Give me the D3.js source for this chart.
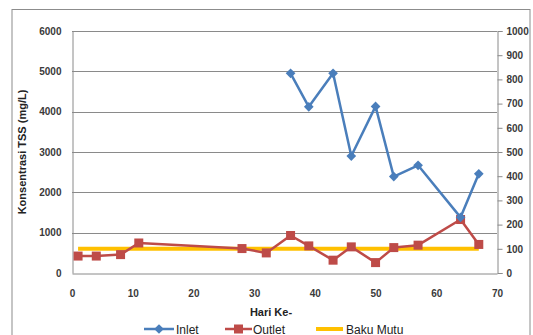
<!DOCTYPE html>
<html>
<head>
<meta charset="utf-8">
<script src="https://cdn.jsdelivr.net/npm/d3@7"></script>
<style>
  body { margin: 0; background: #fff; }
  svg { display: block; }
</style>
</head>
<body>
<svg id="chart" width="533" height="335"></svg>
<script>
// TSS concentration by day: inlet on the left axis, outlet and standard on the right axis
const inletDays   = [36, 39, 43, 46, 50, 53, 57, 64, 67];
const inletValues = [4950, 4120, 4950, 2900, 4130, 2390, 2670, 1380, 2460];

const outletDays   = [1, 4, 8, 11, 28, 32, 36, 39, 43, 46, 50, 53, 57, 64, 67];
const outletValues = [70, 70, 76, 124, 101, 83, 155, 112, 53, 108, 43, 105, 115, 221, 118];

const bakuMutuDays   = [1, 67];
const bakuMutuValues = [100, 100];

const xTicks      = [0, 10, 20, 30, 40, 50, 60, 70];
const leftTicks   = [0, 1000, 2000, 3000, 4000, 5000, 6000];
const rightTicks  = [0, 100, 200, 300, 400, 500, 600, 700, 800, 900, 1000];

const svg = d3.select("#chart");
const plot = { left: 72, right: 497, top: 31, bottom: 273 };

// outer chart frame
svg.append("rect")
  .attr("x", 12).attr("y", 9.5)
  .attr("width", 518).attr("height", 340)
  .attr("fill", "#fff").attr("stroke", "#8c8c8c").attr("stroke-width", 1);

const x  = d3.scaleLinear().domain([0, 70]).range([plot.left, plot.right]);
const yL = d3.scaleLinear().domain([0, 6000]).range([plot.bottom, plot.top]);
const yR = d3.scaleLinear().domain([0, 1000]).range([plot.bottom, plot.top]);

const tickFont = "'Liberation Sans', Arial, sans-serif";
const fmt = d3.format("d");

// horizontal gridlines from the left axis
svg.append("g")
  .selectAll("line")
  .data(leftTicks.filter(d => d > 0))
  .join("line")
  .attr("x1", plot.left).attr("x2", plot.right)
  .attr("y1", d => Math.round(yL(d)) + 0.5).attr("y2", d => Math.round(yL(d)) + 0.5)
  .attr("stroke", "#8a8a8a").attr("stroke-width", 1);

// left axis
const gL = svg.append("g")
  .attr("transform", `translate(${plot.left + 0.5},0)`)
  .call(d3.axisLeft(yL).tickValues(leftTicks).tickFormat(fmt).tickSize(0).tickPadding(11));
gL.select(".domain").attr("stroke", "#8a8a8a");
gL.selectAll("text").attr("font-family", tickFont).attr("font-size", 10)
  .attr("font-weight", "bold").attr("fill", "#3a3a3a");

// right axis
const gR = svg.append("g")
  .attr("transform", `translate(${plot.right + 0.5},0)`)
  .call(d3.axisRight(yR).tickValues(rightTicks).tickFormat(fmt).tickSize(5).tickPadding(4));
gR.select(".domain").attr("stroke", "#8a8a8a");
gR.selectAll(".tick line").attr("stroke", "#8a8a8a");
gR.selectAll("text").attr("font-family", tickFont).attr("font-size", 10)
  .attr("font-weight", "bold").attr("fill", "#3a3a3a");

// bottom axis
const gX = svg.append("g")
  .attr("transform", `translate(0,${plot.bottom + 0.5})`)
  .call(d3.axisBottom(x).tickValues(xTicks).tickFormat(fmt).tickSize(0).tickPadding(16));
gX.select(".domain").attr("stroke", "#8a8a8a");
gX.selectAll("text").attr("font-family", tickFont).attr("font-size", 10)
  .attr("font-weight", "bold").attr("fill", "#3a3a3a");

// axis titles
svg.append("text")
  .attr("transform", `translate(26,${(plot.top + plot.bottom) / 2}) rotate(-90)`)
  .attr("text-anchor", "middle")
  .attr("font-family", tickFont).attr("font-size", 11).attr("font-weight", "bold")
  .attr("fill", "#222")
  .text("Konsentrasi TSS (mg/L)");

svg.append("text")
  .attr("x", 271).attr("y", 316)
  .attr("text-anchor", "middle")
  .attr("font-family", tickFont).attr("font-size", 11).attr("font-weight", "bold")
  .attr("fill", "#222")
  .text("Hari Ke-");

const blue = "#4a7ebb", red = "#be4b48", gold = "#ffc000";

const lineR = d3.line().x(d => x(d[0])).y(d => yR(d[1]));
const lineL = d3.line().x(d => x(d[0])).y(d => yL(d[1]));

// Baku Mutu line (right axis)
svg.append("path")
  .datum(d3.zip(bakuMutuDays, bakuMutuValues))
  .attr("d", lineR)
  .attr("fill", "none").attr("stroke", gold).attr("stroke-width", 4);

// Outlet series (right axis)
const outletData = d3.zip(outletDays, outletValues);
svg.append("path")
  .datum(outletData)
  .attr("d", lineR)
  .attr("fill", "none").attr("stroke", red).attr("stroke-width", 2.5)
  .attr("stroke-linejoin", "round");
svg.append("g")
  .selectAll("rect")
  .data(outletData)
  .join("rect")
  .attr("x", d => x(d[0]) - 4.5).attr("y", d => yR(d[1]) - 4.5)
  .attr("width", 9).attr("height", 9)
  .attr("fill", red);

// Inlet series (left axis)
const inletData = d3.zip(inletDays, inletValues);
svg.append("path")
  .datum(inletData)
  .attr("d", lineL)
  .attr("fill", "none").attr("stroke", blue).attr("stroke-width", 2.5)
  .attr("stroke-linejoin", "round");
const diamond = d3.symbol().type(d3.symbolDiamond2).size(60);
svg.append("g")
  .selectAll("path")
  .data(inletData)
  .join("path")
  .attr("transform", d => `translate(${x(d[0])},${yL(d[1])})`)
  .attr("d", diamond)
  .attr("fill", blue);

// legend
const legendY = 329;
const legend = svg.append("g").attr("font-family", tickFont).attr("font-size", 12).attr("fill", "#222");

legend.append("line").attr("x1", 144).attr("x2", 174).attr("y1", legendY).attr("y2", legendY)
  .attr("stroke", blue).attr("stroke-width", 2.5);
legend.append("path").attr("transform", `translate(159,${legendY})`).attr("d", diamond).attr("fill", blue);
legend.append("text").attr("x", 176).attr("y", legendY + 4.5).text("Inlet");

legend.append("line").attr("x1", 225).attr("x2", 252).attr("y1", legendY).attr("y2", legendY)
  .attr("stroke", red).attr("stroke-width", 2.5);
legend.append("rect").attr("x", 234).attr("y", legendY - 4.5).attr("width", 9).attr("height", 9).attr("fill", red);
legend.append("text").attr("x", 253).attr("y", legendY + 4.5).text("Outlet");

legend.append("line").attr("x1", 316).attr("x2", 343).attr("y1", legendY).attr("y2", legendY)
  .attr("stroke", gold).attr("stroke-width", 4);
legend.append("text").attr("x", 346).attr("y", legendY + 4.5).text("Baku Mutu");
</script>
</body>
</html>
